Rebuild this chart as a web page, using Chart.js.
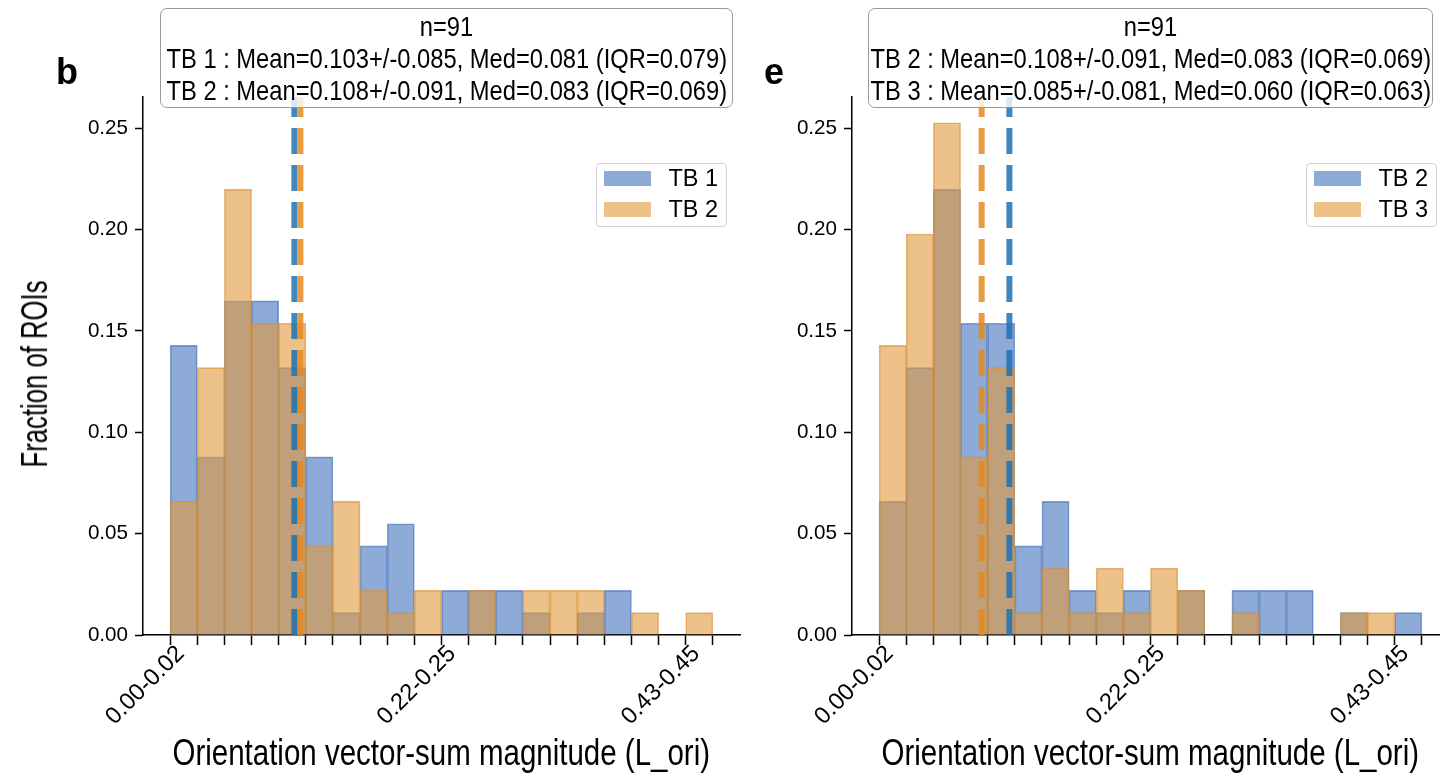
<!DOCTYPE html>
<html>
<head>
<meta charset="utf-8">
<script src="https://cdn.jsdelivr.net/npm/chart.js@4.4.1/dist/chart.umd.min.js"></script>
<style>
html,body{margin:0;padding:0;background:#fff;}
body{width:1440px;height:778px;overflow:hidden;position:relative;}
canvas{position:absolute;top:0;}
.abs{position:absolute;white-space:nowrap;color:#000;}
.stats{position:absolute;top:8px;height:100px;box-sizing:border-box;border:1.5px solid #9a9a9a;border-radius:7px;background:rgba(255,255,255,0.8);}
.legend{position:absolute;top:163px;width:131px;height:64px;box-sizing:border-box;border:1.5px solid #d2d2d2;border-radius:4px;background:rgba(255,255,255,0.8);}
.patch{position:absolute;left:7px;width:47px;height:15px;}
</style>
</head>
<body>
<canvas id="cLeft" width="745" height="778" style="left:0px"></canvas>
<canvas id="cRight" width="745" height="778" style="left:709px"></canvas>
<script>
// ---------------- data ----------------
const binLabels = ['0.00-0.02','0.02-0.04','0.04-0.07','0.07-0.09','0.09-0.11','0.11-0.14','0.14-0.16','0.16-0.18','0.18-0.20','0.20-0.22',
                   '0.22-0.25','0.25-0.27','0.27-0.29','0.29-0.32','0.32-0.34','0.34-0.36','0.36-0.38','0.38-0.41','0.41-0.43','0.43-0.45'];
const shownTickIdx = [0, 10, 19];
const yTickValues = [0, 0.05, 0.10, 0.15, 0.20, 0.25];
const yMax = 0.2654;
const binWidth = 0.0225;

const leftNames = ['TB 1', 'TB 2'];
const leftTB1 = [0.1429,0.0879,0.1648,0.1648,0.1319,0.0879,0.0110,0.0440,0.0549,0,0.0220,0.0220,0.0220,0.0110,0,0.0110,0.0220,0,0,0];
const leftTB2 = [0.0659,0.1319,0.2198,0.1538,0.1538,0.0440,0.0659,0.0220,0.0110,0.0220,0,0.0220,0,0.0220,0.0220,0.0220,0,0.0110,0,0.0110];
const leftMeans = [0.103, 0.108];
const leftStats = ['n=91',
  'TB 1 : Mean=0.103+/-0.085, Med=0.081 (IQR=0.079)',
  'TB 2 : Mean=0.108+/-0.091, Med=0.083 (IQR=0.069)'];

const rightNames = ['TB 2', 'TB 3'];
const rightTB2 = [0.0659,0.1319,0.2198,0.1538,0.1538,0.0440,0.0659,0.0220,0.0110,0.0220,0,0.0220,0,0.0220,0.0220,0.0220,0,0.0110,0,0.0110];
const rightTB3 = [0.1429,0.1978,0.2527,0.0879,0.1319,0.0110,0.0330,0.0110,0.0330,0.0110,0.0330,0.0220,0,0.0110,0,0,0,0.0110,0.0110,0];
const rightMeans = [0.108, 0.085];
const rightStats = ['n=91',
  'TB 2 : Mean=0.108+/-0.091, Med=0.083 (IQR=0.069)',
  'TB 3 : Mean=0.085+/-0.081, Med=0.060 (IQR=0.063)'];

const xTitle = 'Orientation vector-sum magnitude (L_ori)';
const yTitle = 'Fraction of ROIs';

// ---------------- style ----------------
const BLUE_FILL = 'rgba(67,113,187,0.6)';
const BLUE_EDGE = 'rgba(67,113,187,0.66)';
const ORANGE_FILL = 'rgba(225,153,60,0.6)';
const ORANGE_EDGE = 'rgba(215,140,45,0.66)';
const BLUE_LINE = 'rgba(31,113,180,0.85)';
const ORANGE_LINE = 'rgba(228,138,30,0.85)';

function measure(font, text){ const c=document.createElement('canvas').getContext('2d'); c.font=font; return c.measureText(text).width; }
const HAS_NARROW = Math.abs(measure('100px "Liberation Sans Narrow", monospace','0.25 Mean') - measure('100px monospace','0.25 Mean')) > 1;
const FAMILY = HAS_NARROW ? '"Liberation Sans Narrow", "Liberation Sans", Arial, sans-serif' : '"Liberation Sans", Arial, sans-serif';
const tickSize = Math.round(40 * 100 / measure('100px ' + FAMILY, '0.25') * 10) / 10;
const xTickSize = Math.round(tickSize * 1.15 * 10) / 10;

Chart.defaults.font.family = FAMILY;
Chart.defaults.color = '#000';

function pts(arr){ return arr.map((v, i) => ({x: i, y: v})); }

function build(id, s1, s2, names, means){
  const meanLine = (m) => [{x: m / binWidth - 0.5, y: 0}, {x: m / binWidth - 0.5, y: yMax}];
  return new Chart(document.getElementById(id), {
    type: 'bar',
    data: {
      datasets: [
        {type:'line', label:'mean ' + names[1], data: meanLine(means[1]), borderColor: ORANGE_LINE, borderWidth: 6, borderDash:[26,11], pointRadius:0, fill:false, order:0},
        {type:'line', label:'mean ' + names[0], data: meanLine(means[0]), borderColor: BLUE_LINE, borderWidth: 6, borderDash:[26,11], pointRadius:0, fill:false, order:1},
        {type:'bar', label: names[1], data: pts(s2), backgroundColor: ORANGE_FILL, borderColor: ORANGE_EDGE, borderWidth: 1, grouped:false, barPercentage:1, categoryPercentage:1, order:2},
        {type:'bar', label: names[0], data: pts(s1), backgroundColor: BLUE_FILL, borderColor: BLUE_EDGE, borderWidth: 1, grouped:false, barPercentage:1, categoryPercentage:1, order:3}
      ]
    },
    options: {
      responsive:false, animation:false, devicePixelRatio:1,
      layout:{padding:{top:97, right:5, left:0, bottom:0}},
      plugins:{legend:{display:false}, tooltip:{enabled:false}},
      scales:{
        x:{type:'linear', min:-1.5, max:20.5, offset:false,
           afterBuildTicks:(sc)=>{ sc.ticks = binLabels.map((_, i) => ({value:i})); },
           afterFit:(sc)=>{ sc.height = 143; },
           ticks:{autoSkip:false, minRotation:45, maxRotation:45, padding:-5, labelOffset:-3, font:{size:xTickSize},
                  callback:(v)=> shownTickIdx.includes(v) ? binLabels[v] : ''},
           grid:{display:true, drawOnChartArea:false, drawTicks:true, tickLength:10, tickWidth:1.5, tickColor:'#000'},
           border:{display:true, color:'#000', width:1.5}},
        y:{type:'linear', min:0, max:yMax,
           afterBuildTicks:(sc)=>{ sc.ticks = yTickValues.map(v => ({value:v})); },
           afterFit:(sc)=>{ sc.width = 143; },
           ticks:{padding:7, font:{size:tickSize}, callback:(v)=> Number(v).toFixed(2)},
           grid:{display:true, drawOnChartArea:false, drawTicks:true, tickLength:8, tickWidth:1.5, tickColor:'#000'},
           border:{display:true, color:'#000', width:1.5}}
      }
    }
  });
}

const chartL = build('cLeft', leftTB1, leftTB2, leftNames, leftMeans);
const chartR = build('cRight', rightTB2, rightTB3, rightNames, rightMeans);

// ---------------- html text overlays ----------------
function addText(text, cx, cy, size, targetW, opts){
  opts = opts || {};
  const d = document.createElement('div');
  d.className = 'abs';
  d.textContent = text;
  d.style.font = (opts.weight || 'normal') + ' ' + size + 'px ' + (opts.family || FAMILY);
  d.style.lineHeight = '1';
  document.body.appendChild(d);
  const w = d.offsetWidth, h = d.offsetHeight;
  const s = targetW ? targetW / w : 1;
  d.style.left = (cx - w/2) + 'px';
  d.style.top = (cy - h/2) + 'px';
  d.style.transform = (opts.rotate ? 'rotate(' + opts.rotate + 'deg) ' : '') + 'scaleX(' + s + ')';
  return d;
}

function addStats(lines, left, width){
  const box = document.createElement('div');
  box.className = 'stats';
  box.style.left = left + 'px';
  box.style.width = width + 'px';
  document.body.appendChild(box);
  const cx = left + width/2;
  const probe = document.createElement('div');
  probe.className='abs'; probe.style.font = '28px ' + FAMILY; probe.textContent = lines[1];
  document.body.appendChild(probe);
  const s = 561 / probe.offsetWidth; probe.remove();
  lines.forEach((t, i) => {
    const d = addText(t, cx, 27 + i*32, 28, 0);
    d.style.transform = 'scaleX(' + s + ')';
  });
}

function addLegend(chart, left){
  const box = document.createElement('div');
  box.className = 'legend';
  box.style.left = left + 'px';
  document.body.appendChild(box);
  const bars = chart.data.datasets.filter(d => d.type === 'bar').reverse();
  bars.forEach((ds, i) => {
    const p = document.createElement('div');
    p.className = 'patch';
    p.style.top = (7 + i*31) + 'px';
    p.style.background = ds.backgroundColor;
    box.appendChild(p);
    addText(ds.label, left + 97, 178 + i*31, 24, 50);
  });
}

addStats(leftStats, 160, 573);
addStats(rightStats, 868, 565);
addLegend(chartL, 596);
addLegend(chartR, 1306);

addText('b', 67, 72, 36, 0, {weight:'bold', family:'"Liberation Sans", Arial, sans-serif'});
addText('e', 774, 72, 36, 0, {weight:'bold', family:'"Liberation Sans", Arial, sans-serif'});
addText(yTitle, 35, 374, 36, 187, {rotate:-90});
addText(xTitle, 441.5, 752, 37, 538);
addText(xTitle, 1150.5, 752, 37, 538);
</script>
</body>
</html>
